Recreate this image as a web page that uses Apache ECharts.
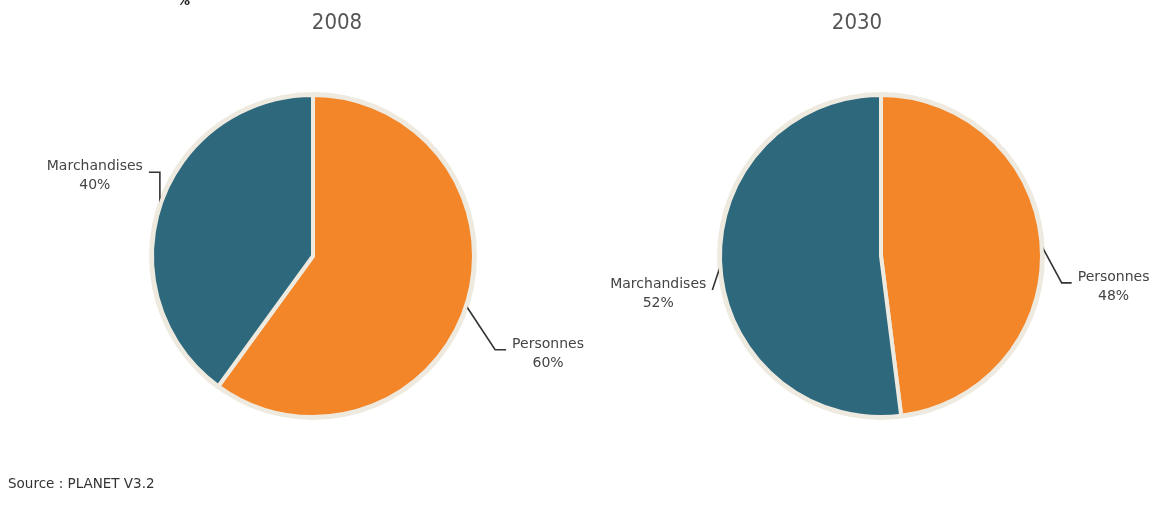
<!DOCTYPE html>
<html>
<head>
<meta charset="utf-8">
<script src="https://cdn.jsdelivr.net/npm/echarts@6/dist/echarts.min.js"></script>
<style>
  html, body { margin: 0; padding: 0; background: #fff; }
  #chart { width: 1158px; height: 515px; }
</style>
</head>
<body>
<div id="chart"></div>
<script>
// data
const categories = ["Personnes", "Marchandises"];
const years = ["2008", "2030"];
const values2008 = [60, 40];
const values2030 = [48, 52];
const sourceText = "Source : PLANET V3.2";

const colorList = ["#f4862a", "#2e687d"];
const ringColor = "#eeeae0";
const font = "DejaVu Sans";

// leader line shape per pie / slice: [dx, dy, horizontal, side]
const leaderShape = [
  [[29, 44, 11, 1], [0, -34, -11, -1]],
  [[20, 37, 10, 1], [-8, 24, 0, -1]]
];

// beige ring behind each pie
function makeRing(center) {
  return {
    type: "pie",
    center: center,
    radius: 164,
    silent: true,
    animation: false,
    z: 1,
    label: { show: false },
    labelLine: { show: false },
    itemStyle: { color: ringColor },
    data: [{ name: "ring", value: 1 }]
  };
}

function makeSeries(values, idx, center) {
  return {
    type: "pie",
    center: center,
    radius: 161,
    startAngle: 90,
    clockwise: true,
    silent: true,
    animation: false,
    z: 2,
    itemStyle: {
      borderColor: ringColor,
      borderWidth: 4
    },
    label: {
      show: true,
      formatter: "{b}\n{c}%",
      fontFamily: font,
      fontSize: 14,
      lineHeight: 19,
      color: "#444",
      overflow: "none"
    },
    labelLine: {
      show: true,
      length: 20,
      length2: 10,
      lineStyle: { color: "#333", width: 1.6 }
    },
    labelLayout: function(params) {
      const s = leaderShape[idx][params.dataIndex];
      const p0 = params.labelLinePoints[0];
      const p1 = [p0[0] + s[0], p0[1] + s[1]];
      const p2 = [p1[0] + s[2], p1[1]];
      const w = params.labelRect.width;
      return {
        x: p2[0] + s[3] * (6 + w / 2),
        y: p2[1] + 4,
        align: "center",
        verticalAlign: "middle",
        labelLinePoints: [p0, p1, p2]
      };
    },
    data: categories.map((c, i) => ({
      name: c,
      value: values[i],
      itemStyle: { color: colorList[i] }
    }))
  };
}

const titleStyle = {
  fontFamily: "DejaVu Sans Condensed",
  fontSize: 22,
  fontWeight: "normal",
  color: "#555"
};

const myChart = echarts.init(document.getElementById("chart"));
myChart.setOption({
  title: [
    { text: years[0], left: 332, top: 7, textAlign: "center", textStyle: titleStyle },
    { text: years[1], left: 852, top: 7, textAlign: "center", textStyle: titleStyle }
  ],
  graphic: [
    {
      type: "text",
      left: 8,
      top: 477,
      style: { text: sourceText, fontFamily: font, fontSize: 13.5, fill: "#333" }
    },
    {
      type: "text",
      left: 177,
      top: -5,
      style: { text: "%", fontFamily: font, fontSize: 13, fontWeight: "bold", fill: "#222" }
    }
  ],
  series: [
    makeRing([313, 256]),
    makeRing([881, 256]),
    makeSeries(values2008, 0, [313, 256]),
    makeSeries(values2030, 1, [881, 256])
  ]
});
</script>
</body>
</html>
